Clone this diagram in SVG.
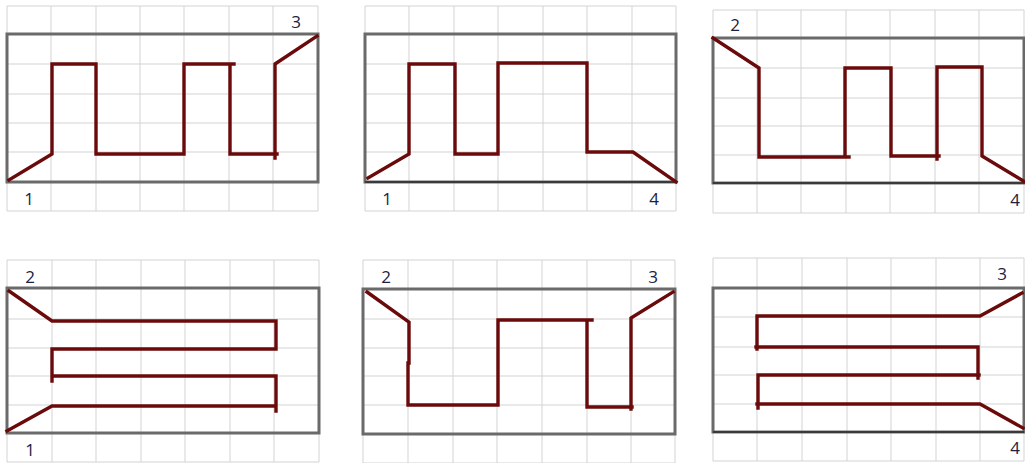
<svg xmlns="http://www.w3.org/2000/svg" width="1025" height="463" viewBox="0 0 1025 463">
<style>
.grid{fill:none;stroke:#d3d3d3;stroke-width:1}
.box{fill:none;stroke:#6a6a6a;stroke-width:3}
.dark{fill:none;stroke:#3a3a3a;stroke-width:2}
.route{fill:none;stroke:#6b0a0a;stroke-width:3.4;stroke-linejoin:miter;stroke-linecap:square}
.lbl{font-family:"Open Sans","Liberation Sans",sans-serif;font-size:17px;fill:#1c2240;text-anchor:middle}
</style>
<rect width="1025" height="463" fill="#ffffff"/>

<g id="panel1">
<path class="grid" d="M7,6V211M51,6V211M96,6V211M140,6V211M184,6V211M229,6V211M273,6V211M318,6V211M7,6H318M7,64H318M7,94H318M7,123H318M7,152H318M7,211H318"/>
<rect class="box" x="7" y="34" width="311" height="148"/>
<path class="route" d="M9,180L52,154V64H96V154H184V64H234M230,64V154H277M275,158V64L317,36"/>
<text class="lbl" x="29" y="205">1</text>
<text class="lbl" x="296" y="28">3</text>
</g>

<g id="panel2">
<path class="grid" d="M365,6V211M409,6V211M454,6V211M498,6V211M543,6V211M587,6V211M632,6V211M676,6V211M365,6H676M365,64H676M365,94H676M365,123H676M365,152H676M365,211H676"/>
<rect class="box" x="365" y="34" width="311" height="148"/>
<path class="dark" d="M365,182H676"/>
<path class="route" d="M368,178L409,154V64H455V154H498V63H587V152H633L676,182"/>
<text class="lbl" x="387" y="205">1</text>
<text class="lbl" x="654" y="205">4</text>
</g>

<g id="panel3">
<path class="grid" d="M713,10V213M757,10V213M801,10V213M846,10V213M890,10V213M935,10V213M979,10V213M1024,10V213M713,10H1024M713,68H1024M713,98H1024M713,126H1024M713,155H1024M713,213H1024"/>
<rect class="box" x="713" y="38" width="311" height="145"/>
<path class="dark" d="M713,183H1024"/>
<path class="route" d="M713,38L759,68V157H849M845,157V68H891V156H939M937,159V67H979M982,67V156L1025,182"/>
<text class="lbl" x="735" y="31">2</text>
<text class="lbl" x="1015" y="206">4</text>
</g>

<g id="panel4">
<path class="grid" d="M7,260V462M52,260V462M96,260V462M141,260V462M185,260V462M230,260V462M274,260V462M319,260V462M7,260H319M7,319H319M7,348H319M7,376H319M7,405H319M7,462H319"/>
<rect class="box" x="7" y="288" width="312" height="145"/>
<path class="route" d="M9,291L52,321H276V349H52V381M52,376H276V411M275,406H52L7,431"/>
<text class="lbl" x="30" y="283">2</text>
<text class="lbl" x="30" y="456">1</text>
</g>

<g id="panel5">
<path class="grid" d="M363,260V463M408,260V463M453,260V463M497,260V463M542,260V463M587,260V463M631,260V463M675,260V463M363,260H675M363,319H675M363,348H675M363,376H675M363,405H675M363,463H675"/>
<rect class="box" x="363" y="289" width="312" height="145"/>
<path class="route" d="M367,292L409,322V363M408,363V405H498V320H592M587,320V407H632M631,409V318L673,292"/>
<text class="lbl" x="386" y="283">2</text>
<text class="lbl" x="653" y="283">3</text>
</g>

<g id="panel6">
<path class="grid" d="M713,258V461M757,258V461M802,258V461M847,258V461M891,258V461M936,258V461M980,258V461M1024,258V461M713,258H1024M713,317H1024M713,347H1024M713,375H1024M713,404H1024M713,461H1024"/>
<rect class="box" x="713" y="288" width="311" height="144"/>
<path class="dark" d="M713,432H1024"/>
<path class="route" d="M1022,293L980,316H757V349M756,347H978V378M979,375H758V408M757,404H980L1023,428"/>
<text class="lbl" x="1002" y="280">3</text>
<text class="lbl" x="1015" y="454">4</text>
</g>
</svg>
